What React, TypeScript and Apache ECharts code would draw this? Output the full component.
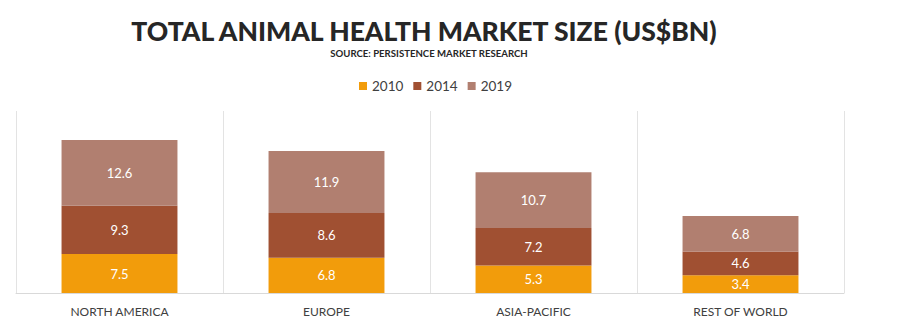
import React, { useEffect, useRef } from "react";
import * as echarts from "echarts";

const categories = ["NORTH AMERICA", "EUROPE", "ASIA-PACIFIC", "REST OF WORLD"];
const years = ["2010", "2014", "2019"];
const values2010 = [7.5, 6.8, 5.3, 3.4];
const values2014 = [9.3, 8.6, 7.2, 4.6];
const values2019 = [12.6, 11.9, 10.7, 6.8];
const colors = ["#f29c0b", "#a05032", "#b17f70"];

export default function App() {
  const ref = useRef<HTMLDivElement>(null);
  useEffect(() => {
    if (!ref.current) return;
    const chart = echarts.init(ref.current, undefined, { renderer: "svg" });
    const font = "Lato, 'Open Sans', sans-serif";
    const series = [values2010, values2014, values2019].map((vals, i) => ({
      name: years[i],
      type: "bar",
      stack: "total",
      data: vals,
      barWidth: "56%",
      itemStyle: { color: colors[i] },
      label: {
        show: true,
        position: "inside",
        color: "#ffffff",
        fontSize: 13,
        fontFamily: font,
        formatter: (p: any) => p.value.toFixed(1),
      },
    }));
    chart.setOption({
      animation: false,
      graphic: [
        {
          type: "text",
          x: 424,
          y: 31,
          style: {
            text: "TOTAL ANIMAL HEALTH MARKET SIZE (US$BN)",
            font: "900 26.5px Lato, sans-serif",
            fill: "#262626",
            textAlign: "center",
            textVerticalAlign: "middle",
          },
        },
        {
          type: "text",
          x: 429,
          y: 53,
          style: {
            text: "SOURCE: PERSISTENCE MARKET RESEARCH",
            font: "bold 9.6px Lato, sans-serif",
            fill: "#262626",
            textAlign: "center",
            textVerticalAlign: "middle",
          },
        },
      ],
      legend: {
        data: years,
        left: 354,
        top: 74,
        itemWidth: 8,
        itemHeight: 8,
        itemGap: 10,
        icon: "rect",
        textStyle: { color: "#404040", fontSize: 13.5, fontFamily: font },
      },
      grid: { left: 16, right: 56, top: 111, bottom: 34 },
      xAxis: {
        type: "category",
        data: categories,
        axisLine: { show: true, lineStyle: { color: "#d9d9d9", width: 1 } },
        axisTick: { show: false },
        splitLine: { show: true, lineStyle: { color: "#e3e3e3", width: 1 } },
        axisLabel: {
          color: "#404040",
          fontSize: 12,
          fontFamily: font,
          margin: 12,
        },
      },
      yAxis: {
        type: "value",
        min: 0,
        max: 35,
        show: false,
        splitLine: { show: false },
      },
      series,
    });
    return () => chart.dispose();
  }, []);
  return <div ref={ref} style={{ width: 900, height: 327, position: "absolute", left: 0, top: 0 }} />;
}
